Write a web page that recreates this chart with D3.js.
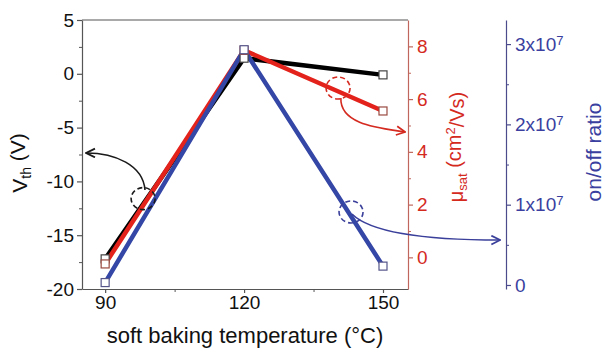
<!DOCTYPE html>
<html>
<head>
<meta charset="utf-8">
<script src="https://cdn.jsdelivr.net/npm/d3@7"></script>
<style>
  body { margin: 0; background: #fff; }
  svg { font-family: "Liberation Sans", Arial, sans-serif; }
</style>
</head>
<body>
<svg id="chart" width="605" height="352"></svg>
<script>
// data
const temps = [90, 120, 150];
const vth = [-17.2, 1.45, -0.1];          // V
const mobility = [-0.25, 7.85, 5.55];     // cm2/Vs
const onOff = [0.03e7, 2.93e7, 0.235e7];  // ratio

const xTicks = [90, 120, 150];
const xMinor = [105, 135];
const vthTicks = [5, 0, -5, -10, -15, -20];
const vthMinor = [2.5, -2.5, -7.5, -12.5, -17.5];
const muTicks = [0, 2, 4, 6, 8];
const muMinor = [1, 3, 5, 7];
const ratioTicks = [0, 1e7, 2e7, 3e7];
const ratioMinor = [0.5e7, 1.5e7, 2.5e7];

// annotations, in (temperature, Vth) units
const annCircles = [
  { x: 98.2, y: -11.6, color: "#1a1a1a" },
  { x: 140.3, y: -1.32, color: "#d42a20" },
  { x: 143.1, y: -12.84, color: "#3a3f9a" }
];
const annArrows = [
  { pts: [[98.6, -10.8], [98.2, -8.48], [92.1, -7.36], [85.9, -7.36]], color: "#1a1a1a" },
  { pts: [[140.9, -2.25], [140.7, -4.76], [149.4, -5.04], [154.8, -5.41]], color: "#d42a20" },
  { pts: [[143.3, -13.03], [147.2, -14.7], [158.0, -15.45], [175.3, -15.45]], color: "#3a3f9a" }
];

const svg = d3.select("#chart");
const plot = { left: 82, right: 408, top: 20, bottom: 289, blueX: 506 };

const x = d3.scaleLinear().domain([85, 155.4]).range([plot.left, plot.right]);
const yL = d3.scaleLinear().domain([-20, 5]).range([plot.bottom, plot.top]);
const yR = d3.scaleLinear().domain([-1.2, 9]).range([plot.bottom, plot.top]);
const yB = d3.scaleLinear().domain([-0.05e7, 3.3e7]).range([plot.bottom, plot.top]);

const cBlack = "#000", cRed = "#e3221c", cBlue = "#3446a6";
const plain = d => String(d);

function styleAxis(g, col, txtCol) {
  g.select(".domain").attr("stroke", col).attr("stroke-width", 1.2);
  g.selectAll(".tick line").attr("stroke", col).attr("stroke-width", 1.2);
  g.selectAll("text").attr("fill", txtCol).style("font-size", "19px");
}

// top frame
svg.append("line").attr("x1", plot.left).attr("x2", plot.right)
  .attr("y1", plot.top).attr("y2", plot.top)
  .attr("stroke", "#555").attr("stroke-width", 1.2);

// left axis
const gL = svg.append("g").attr("transform", `translate(${plot.left},0)`)
  .call(d3.axisLeft(yL).tickValues(vthTicks).tickFormat(plain).tickSize(5).tickPadding(3).tickSizeOuter(0));
styleAxis(gL, "#555", "#111");
svg.append("g").attr("transform", `translate(${plot.left},0)`)
  .call(d3.axisLeft(yL).tickValues(vthMinor).tickSize(3).tickFormat(""))
  .call(g => { g.select(".domain").remove(); g.selectAll("line").attr("stroke", "#555"); });

// bottom axis
const gX = svg.append("g").attr("transform", `translate(0,${plot.bottom})`)
  .call(d3.axisBottom(x).tickValues(xTicks).tickFormat(plain).tickSize(4).tickPadding(3).tickSizeOuter(0));
styleAxis(gX, "#555", "#111");
svg.append("g").attr("transform", `translate(0,${plot.bottom})`)
  .call(d3.axisBottom(x).tickValues(xMinor).tickSize(3).tickFormat(""))
  .call(g => { g.select(".domain").remove(); g.selectAll("line").attr("stroke", "#555"); });

// right (mobility) axis
const gR = svg.append("g").attr("transform", `translate(${plot.right},0)`)
  .call(d3.axisRight(yR).tickValues(muTicks).tickFormat(plain).tickSize(5).tickPadding(4).tickSizeOuter(0));
styleAxis(gR, "#c0665c", "#d42a1e");
svg.append("g").attr("transform", `translate(${plot.right},0)`)
  .call(d3.axisRight(yR).tickValues(muMinor).tickSize(3).tickFormat(""))
  .call(g => { g.select(".domain").remove(); g.selectAll("line").attr("stroke", "#c0665c"); });

// on/off axis
const gB = svg.append("g").attr("transform", `translate(${plot.blueX},0)`)
  .call(d3.axisRight(yB).tickValues(ratioTicks).tickSize(5).tickPadding(4).tickSizeOuter(0));
styleAxis(gB, "#4a4a8c", "#3a3fa0");
gB.selectAll(".tick text").each(function(d) {
  const t = d3.select(this).text("");
  if (d === 0) { t.text("0"); return; }
  t.append("tspan").text(`${d / 1e7}x10`);
  t.append("tspan").attr("dy", "-0.45em").style("font-size", "13px").text("7");
});
svg.append("g").attr("transform", `translate(${plot.blueX},0)`)
  .call(d3.axisRight(yB).tickValues(ratioMinor).tickSize(3).tickFormat(""))
  .call(g => { g.select(".domain").remove(); g.selectAll("line").attr("stroke", "#4a4a8c"); });

// series lines
const series = [
  { vals: vth, y: yL, color: cBlack, mk: "#444" },
  { vals: mobility, y: yR, color: cRed, mk: "#9a4a40" },
  { vals: onOff, y: yB, color: cBlue, mk: "#55558a" }
];
series.forEach(s => {
  svg.append("path")
    .datum(temps.map((t, i) => [t, s.vals[i]]))
    .attr("fill", "none").attr("stroke", s.color).attr("stroke-width", 4.5)
    .attr("d", d3.line().x(d => x(d[0])).y(d => s.y(d[1])));
});
series.forEach(s => {
  svg.append("g").selectAll("rect")
    .data(temps.map((t, i) => [t, s.vals[i]]))
    .join("rect")
    .attr("x", d => x(d[0]) - 4).attr("y", d => s.y(d[1]) - 4)
    .attr("width", 8).attr("height", 8)
    .attr("fill", "#fff").attr("stroke", s.mk).attr("stroke-width", 1.2);
});

// annotations
const defs = svg.append("defs");
annArrows.forEach((a, i) => {
  defs.append("marker").attr("id", "ah" + i)
    .attr("viewBox", "0 0 10 10").attr("refX", 9).attr("refY", 5)
    .attr("markerWidth", 11).attr("markerHeight", 11).attr("markerUnits", "userSpaceOnUse")
    .attr("orient", "auto")
    .append("path").attr("d", "M1,1 L9,5 L1,9").attr("fill", "none")
    .attr("stroke", a.color).attr("stroke-width", 1.6);
  const p = a.pts.map(q => [x(q[0]), yL(q[1])]);
  svg.append("path")
    .attr("d", `M${p[0]}C${p[1]} ${p[2]} ${p[3]}`)
    .attr("fill", "none").attr("stroke", a.color).attr("stroke-width", 1.6)
    .attr("marker-end", `url(#ah${i})`);
});
svg.append("g").selectAll("ellipse").data(annCircles).join("ellipse")
  .attr("cx", d => x(d.x)).attr("cy", d => yL(d.y))
  .attr("rx", 12).attr("ry", 11)
  .attr("fill", "none").attr("stroke", d => d.color).attr("stroke-width", 1.6)
  .attr("stroke-dasharray", "5,3");

// axis titles
const tL = svg.append("text").attr("transform", "translate(27,163) rotate(-90)")
  .attr("text-anchor", "middle").style("font-size", "21px").attr("fill", "#111");
tL.append("tspan").text("V");
tL.append("tspan").attr("dy", "0.3em").style("font-size", "14px").text("th");
tL.append("tspan").attr("dy", "-0.3em").text(" (V)");

const tR = svg.append("text").attr("transform", "translate(463,147) rotate(-90)")
  .attr("text-anchor", "middle").style("font-size", "20px").attr("fill", "#d42a1e");
tR.append("tspan").text("μ");
tR.append("tspan").attr("dy", "0.3em").style("font-size", "13px").text("sat");
tR.append("tspan").attr("dy", "-0.3em").text(" (cm");
tR.append("tspan").attr("dy", "-0.45em").style("font-size", "13px").text("2");
tR.append("tspan").attr("dy", "0.45em").text("/Vs)");

svg.append("text").attr("transform", "translate(601,152) rotate(-90)")
  .attr("text-anchor", "middle").style("font-size", "21px").attr("fill", "#3a3fa0")
  .text("on/off ratio");

svg.append("text").attr("x", 245).attr("y", 343)
  .attr("text-anchor", "middle").style("font-size", "22px").attr("fill", "#111")
  .text("soft baking temperature (°C)");
</script>
</body>
</html>
